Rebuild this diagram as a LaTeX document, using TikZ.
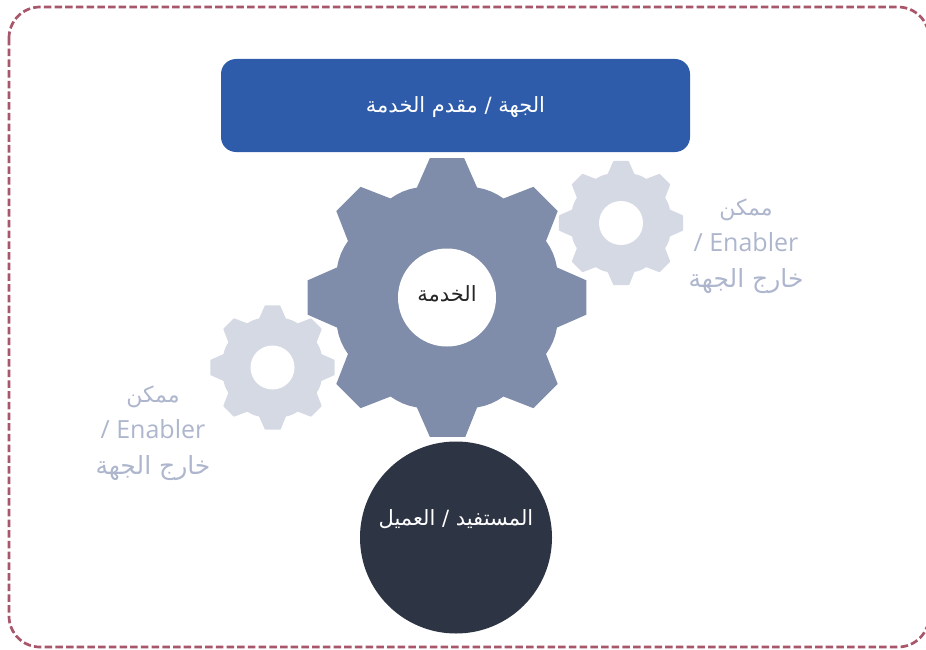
\documentclass[tikz,border=0pt]{standalone}
\usepackage{fontspec}
\setmainfont{Open Sans}
\newfontfamily\arabicfont[Script=Arabic]{DejaVu Sans}
\TeXXeTstate=1
\definecolor{framered}{HTML}{A8566A}
\definecolor{providerblue}{HTML}{2F5CAA}
\definecolor{gearblue}{HTML}{7F8DAA}
\definecolor{gearlight}{HTML}{D5D9E4}
\definecolor{enablertext}{HTML}{ADB6CD}
\definecolor{clientdark}{HTML}{2D3444}
\newcommand{\ar}[1]{{\arabicfont\beginR #1\endR}}
% one gear with 8 teeth, #1 centre, #2 scale, #3 colour, #4 corner radius
\newcommand{\drawgear}[4]{
    \fill[#3,shift={(#1)},scale=#2,rounded corners=#4] (82.5:140.5)
    \foreach \a in {90,135,...,405} {
        -- (\a-7:140.5) -- (\a+7:140.5) -- (\a+15.3:114) -- (\a+19:114.6) -- (\a+22.5:114.8) -- (\a+26:114.6) -- (\a+29.7:114)
    } -- cycle;
}
\tikzset{
    bigtext/.style={font=\fontsize{21}{26}\selectfont},
    enablerlabel/.style={text=enablertext,align=center,font=\fontsize{25}{36}\selectfont},
    hole/.style={circle,fill=white,inner sep=0pt,minimum size=#1}
}
\begin{document}
\begin{tikzpicture}[x=1pt,y=-1pt]
    \useasboundingbox (0,0) rectangle (926,650);

    % الإطار
    \draw[framered,line width=2.7pt,dash pattern=on 7.5pt off 3.2pt,rounded corners=31pt] (9,7) rectangle (929,647);

    \node[fill=providerblue,rounded corners=15pt,minimum width=469pt,minimum height=93pt,text=white,bigtext] (provider) at (455.5,105.5) {\raisebox{-2pt}[\height][\depth]{\ar{الجهة / مقدم الخدمة}}};

    % الترس الكبير
    \coordinate (center1) at (447,297.5);
    \drawgear{center1}{1}{gearblue}{0.1pt}
    \node[hole=98pt,text=black!85,bigtext] (service) at (center1) {\raisebox{4pt}[\height][\depth]{\ar{الخدمة}}};

    % الترسان الصغيران
    \coordinate (center2) at (621,223);
    \drawgear{center2}{0.445}{gearlight}{0.6pt}
    \node[hole=44pt] (hole2) at (center2) {};

    \coordinate (center3) at (272.5,367.5);
    \drawgear{center3}{0.445}{gearlight}{0.6pt}
    \node[hole=44pt] (hole3) at (center3) {};

    \node[enablerlabel] (enabler1) at (746,246) {{\fontsize{22}{36}\selectfont\ar{ممكن}}\\/ Enabler\\\ar{خارج الجهة}};
    \node[enablerlabel] (enabler2) at (153,433) {{\fontsize{22}{36}\selectfont\ar{ممكن}}\\/ Enabler\\\ar{خارج الجهة}};

    \node[circle,fill=clientdark,minimum size=192pt,inner sep=0pt,text=white,bigtext] (client) at (456,537.5) {\raisebox{18pt}[\height][\depth]{\ar{المستفيد / العميل}}};
\end{tikzpicture}
\end{document}
